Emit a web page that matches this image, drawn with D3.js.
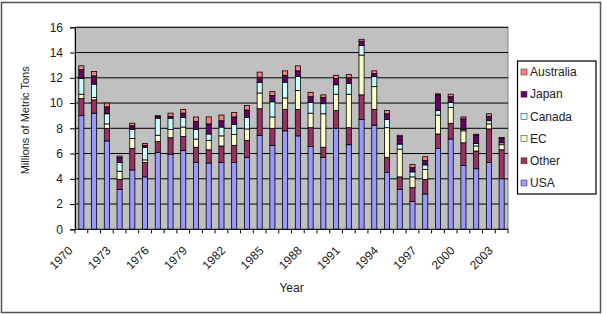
<!DOCTYPE html>
<html>
<head>
<meta charset="utf-8">
<script src="https://cdn.jsdelivr.net/npm/d3@7"></script>
<style>
  body { margin: 0; background: #fff; }
  text { font-family: Arial, "Liberation Sans", sans-serif; fill: #222; }
</style>
</head>
<body>
<script>
var years = [1970, 1971, 1972, 1973, 1974, 1975, 1976, 1977, 1978, 1979,
             1980, 1981, 1982, 1983, 1984, 1985, 1986, 1987, 1988, 1989,
             1990, 1991, 1992, 1993, 1994, 1995, 1996, 1997, 1998, 1999,
             2000, 2001, 2002, 2003];
var usa = [9.0, 9.2, 7.0, 3.15, 4.7, 4.15, 6.1, 5.95, 6.25, 5.3, 5.25, 5.3, 5.3, 5.7, 7.45, 6.65, 7.8,
           7.4, 6.55, 5.7, 8.0, 6.7, 8.7, 8.25, 4.5, 3.15, 2.2, 2.8, 6.4, 7.15, 5.05, 4.8, 5.3, 4.0];
var other = [1.35, 1.05, 1.0, 0.8, 1.7, 1.15, 0.85, 1.3, 1.1, 1.2, 1.05, 1.3, 1.35, 1.35, 2.1, 1.35, 1.7,
             2.1, 1.5, 0.8, 1.4, 1.35, 1.95, 1.25, 1.2, 1.0, 1.1, 1.15, 1.15, 1.25, 1.8, 1.4, 2.65, 2.3];
var ec = [0.35, 0.2, 0.35, 0.65, 0.8, 0.2, 0.5, 0.65, 0.75, 0.65, 0.75, 0.8, 0.85, 0.9, 1.25, 0.9, 0.9,
          1.5, 1.15, 2.65, 1.3, 2.65, 3.15, 1.8, 2.35, 2.2, 0.85, 0.8, 1.5, 1.25, 0.95, 0.4, 0.4, 0.4];
var canada = [1.25, 1.05, 0.8, 0.7, 0.7, 1.0, 1.35, 0.9, 0.75, 0.75, 0.5, 0.7, 0.8, 0.9, 0.85, 1.2, 1.25,
              1.1, 0.85, 0.8, 0.75, 0.85, 0.75, 0.8, 0.65, 0.4, 0.4, 0.35, 0.35, 0.4, 0.1, 0.2, 0.25, 0.15];
var japan = [0.7, 0.65, 0.55, 0.4, 0.3, 0.15, 0.15, 0.15, 0.35, 0.65, 0.8, 0.5, 0.6, 0.6, 0.4, 0.5, 0.55,
             0.45, 0.45, 0.5, 0.5, 0.45, 0.35, 0.25, 0.45, 0.6, 0.33, 0.35, 1.25, 0.45, 0.85, 0.65, 0.35, 0.35];
var australia = [0.3, 0.35, 0.3, 0.1, 0.2, 0.15, 0.05, 0.25, 0.3, 0.35, 0.55, 0.45, 0.35, 0.35, 0.4, 0.3, 0.35,
                 0.4, 0.35, 0.2, 0.25, 0.25, 0.15, 0.2, 0.25, 0.1, 0.25, 0.3, 0.08, 0.2, 0.15, 0.08, 0.2, 0.08];

var seriesNames = ["USA", "Other", "EC", "Canada", "Japan", "Australia"];
var seriesColors = ["#9999ff", "#993366", "#ffffcc", "#ccffff", "#660066", "#ff8080"];
var yTicks = [0, 2, 4, 6, 8, 10, 12, 14, 16];
var labelYears = [1970, 1973, 1976, 1979, 1982, 1985, 1988, 1991, 1994, 1997, 2000, 2003];

var width = 606, height = 314;
var plotLeft = 75, plotRight = 508, plotTop = 27.3, plotBottom = 229.3;

var rows = years.map(function(y, i) {
  return {year: y, USA: usa[i], Other: other[i], EC: ec[i], Canada: canada[i],
          Japan: japan[i], Australia: australia[i]};
});
var stacked = d3.stack().keys(seriesNames)(rows);

var svg = d3.select("body").append("svg")
    .attr("width", width)
    .attr("height", height);

// outer chart border
svg.append("rect")
    .attr("x", 1.5).attr("y", 2.5)
    .attr("width", 599).attr("height", 310)
    .attr("fill", "#fff")
    .attr("stroke", "#555")
    .attr("stroke-width", 1.5);

var x = d3.scaleBand()
    .domain(years)
    .range([plotLeft, plotRight])
    .paddingInner(0.6)
    .paddingOuter(0.3);

var y = d3.scaleLinear()
    .domain([0, 16])
    .range([plotBottom, plotTop]);

svg.append("rect")
    .attr("x", plotLeft).attr("y", plotTop)
    .attr("width", plotRight - plotLeft).attr("height", plotBottom - plotTop)
    .attr("fill", "#c0c0c0")
    .attr("stroke", "#808080")
    .attr("stroke-width", 1);

svg.selectAll(".grid")
    .data(yTicks.slice(1))
  .enter().append("line")
    .attr("class", "grid")
    .attr("x1", plotLeft).attr("x2", plotRight)
    .attr("y1", function(d) { return y(d); })
    .attr("y2", function(d) { return y(d); })
    .attr("stroke", "#000")
    .attr("stroke-width", 1);

svg.selectAll(".layer")
    .data(stacked)
  .enter().append("g")
    .attr("class", "layer")
    .attr("fill", function(d, i) { return seriesColors[i]; })
  .selectAll("rect")
    .data(function(d) { return d; })
  .enter().append("rect")
    .attr("x", function(d) { return x(d.data.year); })
    .attr("width", x.bandwidth())
    .attr("y", function(d) { return y(d[1]); })
    .attr("height", function(d) { return y(d[0]) - y(d[1]); })
    .attr("stroke", "#000")
    .attr("stroke-width", 0.8);

// y axis
var yAxis = svg.append("g")
    .attr("transform", "translate(" + plotLeft + ",0)")
    .call(d3.axisLeft(y).tickValues(yTicks).tickSize(5).tickPadding(7));
yAxis.select(".domain").attr("stroke", "#000");
yAxis.selectAll("text").attr("font-size", 12).attr("fill", "#222")
    .style("font-family", "Arial, 'Liberation Sans', sans-serif");

// x axis: ticks on category boundaries
var step = x.step();
svg.append("line")
    .attr("x1", plotLeft).attr("x2", plotRight)
    .attr("y1", plotBottom).attr("y2", plotBottom)
    .attr("stroke", "#000");
svg.selectAll(".xtick")
    .data(years.concat(["end"]))
  .enter().append("line")
    .attr("class", "xtick")
    .attr("x1", function(d, i) { return plotLeft + i * step; })
    .attr("x2", function(d, i) { return plotLeft + i * step; })
    .attr("y1", plotBottom).attr("y2", plotBottom + 4)
    .attr("stroke", "#000");

svg.selectAll(".xlabel")
    .data(labelYears)
  .enter().append("text")
    .attr("class", "xlabel")
    .attr("text-anchor", "end")
    .attr("font-size", 12)
    .attr("transform", function(d) {
      var cx = x(d) + x.bandwidth() / 2 - 8;
      return "translate(" + cx + "," + (plotBottom + 22) + ") rotate(-45)";
    })
    .text(function(d) { return d; });

svg.append("text")
    .attr("x", (plotLeft + plotRight) / 2)
    .attr("y", 292)
    .attr("text-anchor", "middle")
    .attr("font-size", 12)
    .text("Year");

svg.append("text")
    .attr("transform", "translate(29," + ((plotTop + plotBottom) / 2 - 8) + ") rotate(-90)")
    .attr("text-anchor", "middle")
    .attr("font-size", 11)
    .text("Millions of Metric Tons");

// legend
var legend = svg.append("g");
legend.append("rect")
    .attr("x", 517.5).attr("y", 61)
    .attr("width", 78.5).attr("height", 133)
    .attr("fill", "#fff")
    .attr("stroke", "#000")
    .attr("stroke-width", 1.2);

var legendItems = legend.selectAll(".item")
    .data(seriesNames.slice().reverse())
  .enter().append("g")
    .attr("class", "item")
    .attr("transform", function(d, i) { return "translate(521," + (72 + i * 22.2) + ")"; });
legendItems.append("rect")
    .attr("x", 0).attr("y", -3)
    .attr("width", 6).attr("height", 6)
    .attr("fill", function(d) { return seriesColors[seriesNames.indexOf(d)]; })
    .attr("stroke", "#444")
    .attr("stroke-width", 0.6);
legendItems.append("text")
    .attr("x", 9)
    .attr("dy", "0.35em")
    .attr("font-size", 12)
    .text(function(d) { return d; });
</script>
</body>
</html>
